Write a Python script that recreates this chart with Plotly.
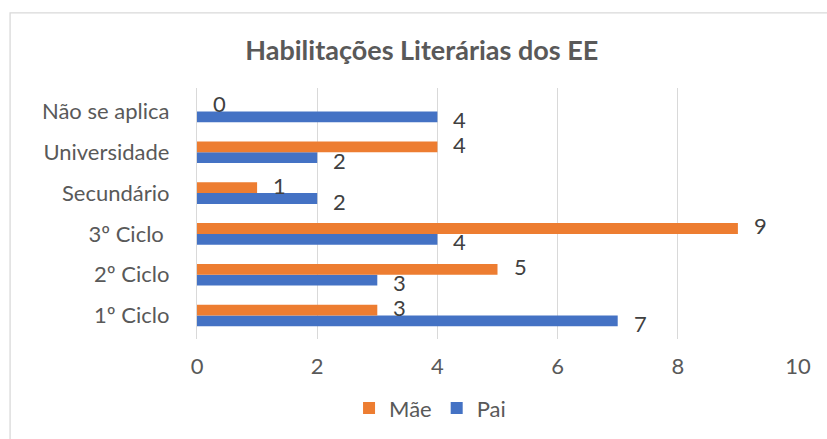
import plotly.graph_objects as go

categories = ["1º Ciclo", "2º Ciclo", "3º Ciclo ", "Secundário", "Universidade", "Não se aplica"]
mae = [3, 5, 9, 1, 4, 0]
pai = [7, 3, 4, 2, 2, 4]
x_ticks = [0, 2, 4, 6, 8, 10]

ORANGE = "#ED7D31"
BLUE = "#4472C4"
GREY = "#595959"
FONT = "Lato"

fig = go.Figure()
fig.add_trace(go.Bar(y=categories, x=pai, name="Pai", orientation="h",
                     marker=dict(color=BLUE, line=dict(width=0)), legendrank=2))
fig.add_trace(go.Bar(y=categories, x=mae, name="Mãe", orientation="h",
                     marker=dict(color=ORANGE, line=dict(width=0)), legendrank=1))

annotations = []
for series, shift in ((mae, 8), (pai, -8)):
    for cat, v in zip(categories, series):
        annotations.append(dict(x=v, y=cat, xref="x", yref="y", text=str(v),
                                showarrow=False, xanchor="left", xshift=14, yshift=shift,
                                font=dict(family=FONT, size=22, color="#404040")))

fig.update_layout(
    width=827, height=439,
    margin=dict(l=197, r=29, t=88, b=100, autoexpand=False),
    paper_bgcolor="white", plot_bgcolor="white",
    barmode="group", bargap=0.47, bargroupgap=0,
    font=dict(family=FONT, size=22, color=GREY),
    title=dict(text="<b>Habilitações Literárias dos EE</b>", x=0.51, xref="container",
               xanchor="center", y=0.885, yref="container", yanchor="middle",
               font=dict(family=FONT, size=27, color=GREY)),
    xaxis=dict(range=[0, 10], tickvals=x_ticks, showgrid=True, gridcolor="#D9D9D9",
               gridwidth=1.3, zeroline=False, showline=False, ticks="", automargin=False,
               ticklabelstandoff=12, tickfont=dict(size=22, color=GREY)),
    yaxis=dict(categoryorder="array", categoryarray=categories, showgrid=False,
               showline=True, linecolor="#D9D9D9", linewidth=1.3, ticks="", automargin=False,
               ticklabelstandoff=22, tickfont=dict(size=22, color=GREY)),
    legend=dict(orientation="h", x=0.52, xref="container", xanchor="center",
                y=0.07, yref="container", yanchor="middle",
                font=dict(size=22, color=GREY), itemwidth=30, traceorder="normal"),
    showlegend=True,
    annotations=annotations,
    shapes=[dict(type="rect", xref="paper", yref="paper", x0=-0.311, x1=1.07,
                 y0=-0.45, y1=1.299, line=dict(color="#D9D9D9", width=1.3),
                 fillcolor="rgba(0,0,0,0)", layer="below")],
)

fig.write_html("out.html", config={"displayModeBar": False},
               post_script="document.body.style.margin='0';")
